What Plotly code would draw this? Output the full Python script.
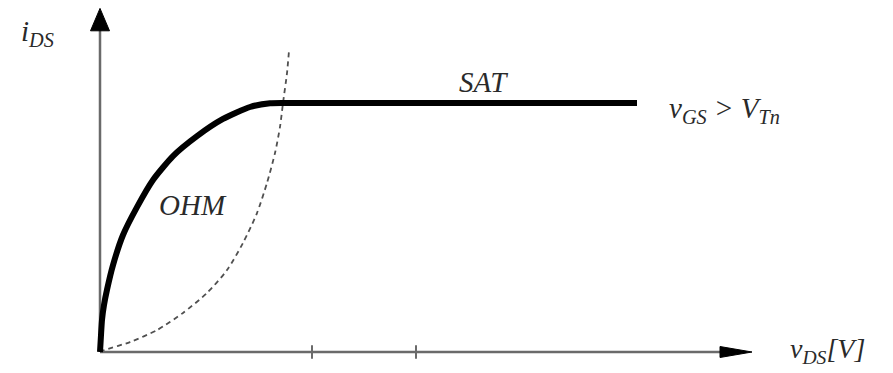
import plotly.graph_objects as go

# ---- data (x in "V" units, y normalised to saturation current) ----
ohm_vds = [0.0, 0.01, 0.02, 0.04, 0.07, 0.13, 0.23, 0.37, 0.53, 0.73, 0.97, 1.23, 1.50, 1.70, 1.85]
ohm_ids = [0.0, 0.068, 0.129, 0.189, 0.25, 0.349, 0.470, 0.582, 0.691, 0.787, 0.867, 0.936, 0.984, 0.999, 1.0]

sat_vds = [1.85, 5.37]
sat_ids = [1.0, 1.0]

edge_vds = [0.0, 0.03, 0.30, 0.57, 0.83, 1.07, 1.27, 1.43, 1.57, 1.67, 1.75, 1.80, 1.83, 1.87, 1.89]
edge_ids = [0.0, 0.006, 0.040, 0.088, 0.157, 0.237, 0.329, 0.438, 0.558, 0.679, 0.799, 0.904, 1.00, 1.12, 1.21]

tick_vds = [2.12, 3.16]

X_END = 6.52   # x-axis arrow tip
Y_END = 1.38   # y-axis arrow tip

axis_col = "#6a6a6a"
text_col = "#2a2a2a"
font_fam = "Liberation Serif"

fig = go.Figure()

# axes lines
fig.add_trace(go.Scatter(x=[0, X_END - 0.3], y=[0, 0], mode="lines",
                         line=dict(color=axis_col, width=2.5), hoverinfo="skip"))
fig.add_trace(go.Scatter(x=[0, 0], y=[0, Y_END - 0.08], mode="lines",
                         line=dict(color=axis_col, width=2.5), hoverinfo="skip"))
# arrowheads
fig.add_trace(go.Scatter(x=[X_END - 0.32, X_END, X_END - 0.32, X_END - 0.32],
                         y=[0.022, 0, -0.022, 0.022], mode="lines", fill="toself",
                         fillcolor="black", line=dict(color="black", width=1), hoverinfo="skip"))
fig.add_trace(go.Scatter(x=[-0.095, 0, 0.095, -0.095],
                         y=[Y_END - 0.09, Y_END, Y_END - 0.09, Y_END - 0.09], mode="lines", fill="toself",
                         fillcolor="black", line=dict(color="black", width=1), hoverinfo="skip"))
# ticks
for t in tick_vds:
    fig.add_trace(go.Scatter(x=[t, t], y=[-0.027, 0.027], mode="lines",
                             line=dict(color=axis_col, width=2), hoverinfo="skip"))

# dashed saturation boundary
fig.add_trace(go.Scatter(x=edge_vds, y=edge_ids, mode="lines", line_shape="spline",
                         line=dict(color="#505050", width=1.8, dash="5px,4px", smoothing=0.7),
                         hoverinfo="skip"))
# ohmic region curve
fig.add_trace(go.Scatter(x=ohm_vds, y=ohm_ids, mode="lines", line_shape="spline",
                         line=dict(color="black", width=6, smoothing=0.6), hoverinfo="skip"))
# saturation line
fig.add_trace(go.Scatter(x=sat_vds, y=sat_ids, mode="lines",
                         line=dict(color="black", width=6), hoverinfo="skip"))

def label(text, x, y, size=29, xanchor="center"):
    fig.add_annotation(x=x, y=y, text=text, showarrow=False, xanchor=xanchor, yanchor="middle",
                       font=dict(family=font_fam, size=size, color=text_col, style="italic"))

label("i<sub>DS</sub>", -0.63, 1.28)
label("OHM", 0.93, 0.59)
label("SAT", 3.83, 1.085)
label("v<sub>GS</sub> &gt; V<sub>Tn</sub>", 5.67, 0.97, xanchor="left")
label("v<sub>DS</sub>[V]", 6.88, 0.005, size=28, xanchor="left")

fig.update_layout(
    width=893, height=373,
    margin=dict(l=0, r=0, t=0, b=0),
    paper_bgcolor="white", plot_bgcolor="white",
    showlegend=False,
    xaxis=dict(range=[-1.0, 7.93], visible=False, fixedrange=True),
    yaxis=dict(range=[-0.0843, 1.4137], visible=False, fixedrange=True),
)

fig.write_html("out.html")
